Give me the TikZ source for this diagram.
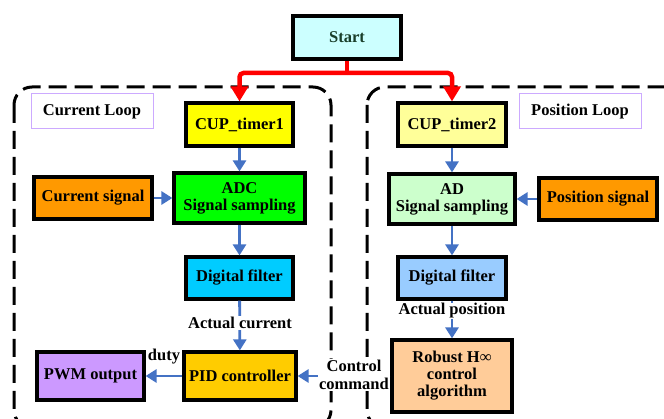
\documentclass[tikz,border=0pt]{standalone}
\usepackage{fontspec}
\setmainfont{Liberation Serif}
\usetikzlibrary{arrows.meta}
\definecolor{flowblue}{RGB}{68,114,196}
\definecolor{startgreen}{RGB}{25,62,42}
\definecolor{labelpurple}{RGB}{204,170,255}
\tikzset{
  blk/.style={draw=black, line width=3.2pt, align=center, inner sep=1pt,
    font=\fontsize{16.5}{17}\selectfont\bfseries},
  tag/.style={fill=white, align=center, inner sep=1pt,
    font=\fontsize{16.5}{18}\selectfont\bfseries},
  looptag/.style={draw=labelpurple, line width=1pt, minimum width=122pt,
    minimum height=35pt, font=\fontsize{16.5}{17}\selectfont\bfseries},
  flow/.style={draw=flowblue, line width=2.8pt,
    -{Triangle[length=11pt,width=13pt]}},
  go/.style={draw=red, line width=4.5pt, rounded corners=4pt,
    -{Triangle[length=15pt,width=17pt]}},
  loopframe/.style={draw=black, line width=3pt, dash pattern=on 18pt off 8pt,
    rounded corners=18pt}
}
\begin{document}
\begin{tikzpicture}[x=1pt,y=-1pt]
\useasboundingbox (0,0) rectangle (664,419);

% dashed frames of the two loops
\draw[loopframe] (14,87) rectangle (331,428);
\draw[loopframe] (367,87) rectangle (690,428);

% loop titles
\node[looptag] (curtag) at (92,111.5) {Current Loop};
\node[looptag] (postag) at (580,111.5) {Position Loop};

% start
\node[blk, line width=4.2pt, fill={rgb,255:red,204;green,255;blue,255},
  text=startgreen, minimum width=108pt, minimum height=43pt] (start) at (347,37.5) {Start};

% current loop blocks
\node[blk, fill={rgb,255:red,255;green,255;blue,0}, minimum width=107pt, minimum height=43pt]
  (t1) at (239.5,124.5) {CUP\_timer1};
\node[blk, fill={rgb,255:red,0;green,255;blue,0}, minimum width=131pt, minimum height=50pt]
  (adc) at (239.5,198) {ADC\\Signal sampling};
\node[blk, fill={rgb,255:red,255;green,153;blue,0}, minimum width=118pt, minimum height=42pt]
  (cursig) at (93,198) {Current signal};
\node[blk, fill={rgb,255:red,0;green,204;blue,255}, minimum width=107pt, minimum height=42pt]
  (df1) at (239.5,278) {Digital filter};
\node[blk, fill={rgb,255:red,255;green,204;blue,0}, minimum width=112pt, minimum height=48pt]
  (pid) at (240,376) {PID controller};
\node[blk, fill={rgb,255:red,204;green,153;blue,255}, minimum width=107pt, minimum height=48pt]
  (pwm) at (90.5,376) {PWM output};

% position loop blocks
\node[blk, fill={rgb,255:red,255;green,255;blue,153}, minimum width=108pt, minimum height=43pt]
  (t2) at (452,124.5) {CUP\_timer2};
\node[blk, fill={rgb,255:red,204;green,255;blue,204}, minimum width=126pt, minimum height=50pt]
  (ad) at (452,199) {AD\\Signal sampling};
\node[blk, fill={rgb,255:red,255;green,153;blue,0}, minimum width=118pt, minimum height=42pt]
  (possig) at (598,199) {Position signal};
\node[blk, fill={rgb,255:red,153;green,204;blue,255}, minimum width=108pt, minimum height=42pt]
  (df2) at (452,278) {Digital filter};
\node[blk, fill={rgb,255:red,255;green,204;blue,153}, minimum width=120pt, minimum height=72pt]
  (rob) at (452,376) {Robust H∞\\control\\algorithm};

% start branches
\coordinate (split) at (347,73);
\draw[draw=red, line width=4.5pt] (start.south) -- (split);
\draw[go] (split) -| (t1.north);
\draw[go] (split) -| (t2.north);

% current loop flow
\draw[flow] (t1) -- (adc);
\draw[flow] (cursig) -- (adc);
\draw[flow] (adc) -- (df1);
\draw[flow] (df1) -- (pid);
\node[tag] (actcur) at (240,323) {Actual current};
\draw[flow] (pid) -- (pwm);
\node[tag, fill=none] (duty) at (164,357) {duty};

% position loop flow
\draw[flow] (t2) -- (ad);
\draw[flow] (possig) -- (ad);
\draw[flow] (ad) -- (df2);
\draw[flow] (df2) -- (rob);
\node[tag] (actpos) at (452,311) {Actual position};

% command from the position loop to the current loop
\draw[flow] (rob) -- (pid);
\node[tag] (cmd) at (354,375) {Control\\command};
\end{tikzpicture}
\end{document}
